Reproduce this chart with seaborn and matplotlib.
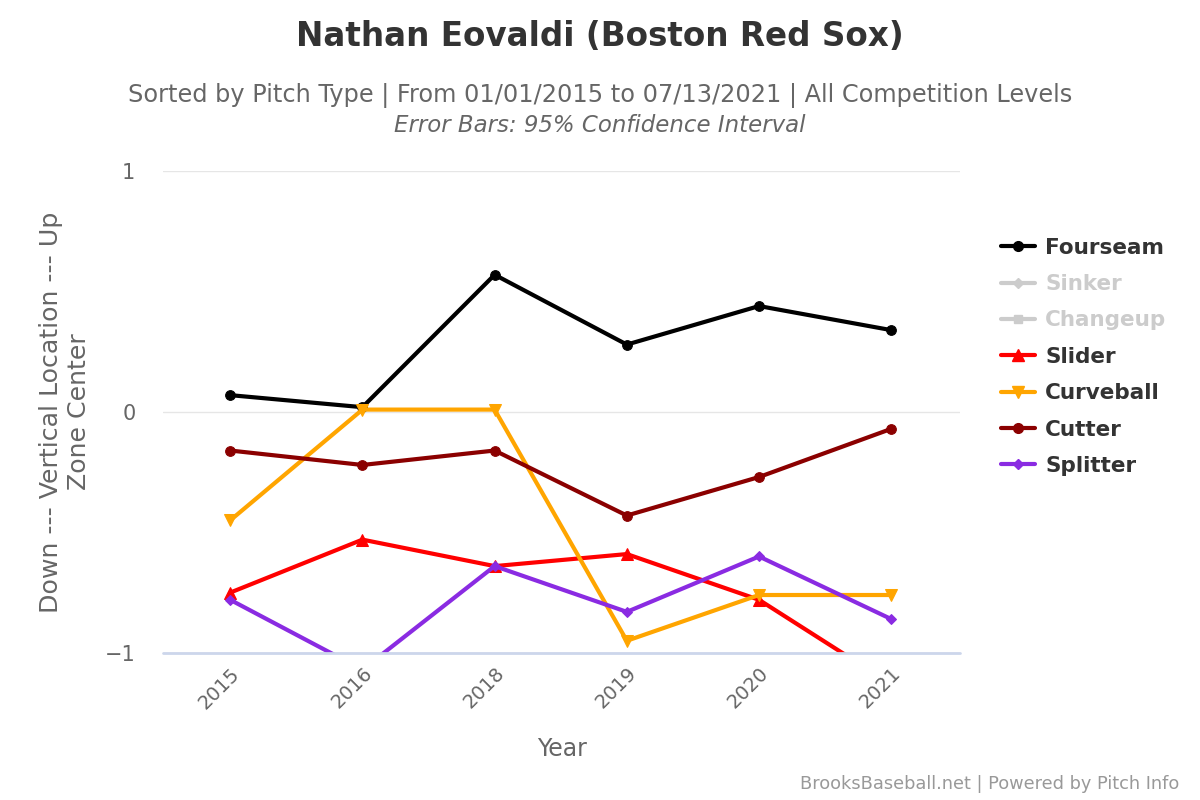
import matplotlib
matplotlib.use("Agg")
import pandas as pd
import seaborn as sns
import matplotlib.pyplot as plt
from matplotlib.lines import Line2D

# Dados
anos = ["2015", "2016", "2018", "2019", "2020", "2021"]
fourseam = [0.07, 0.02, 0.57, 0.28, 0.44, 0.34]
slider = [-0.75, -0.53, -0.64, -0.59, -0.78, -1.13]
curveball = [-0.45, 0.01, 0.01, -0.95, -0.76, -0.76]
cutter = [-0.16, -0.22, -0.16, -0.43, -0.27, -0.07]
splitter = [-0.78, -1.07, -0.64, -0.83, -0.60, -0.86]

series = {
    "Fourseam": (fourseam, "#000000", "o", 7),
    "Slider": (slider, "#ff0000", "^", 8),
    "Curveball": (curveball, "#ffa500", "v", 8),
    "Cutter": (cutter, "#8b0000", "o", 7),
    "Splitter": (splitter, "#8a2be2", "D", 5),
}

sns.set_style("white")
plt.rcParams['font.family'] = ['DejaVu Sans']

fig = plt.figure(figsize=(12, 8), dpi=100)
ax = fig.add_axes([0.136, 0.184, 0.664, 0.602])

for nome, (vals, cor, mk, ms) in series.items():
    df = pd.DataFrame({"ano": anos, "valor": vals})
    sns.lineplot(data=df, x="ano", y="valor", color=cor, marker=mk,
                 markersize=ms, markeredgecolor=cor, linewidth=3, ax=ax,
                 sort=False, zorder=3)

ax.set_ylim(-1, 1)
ax.set_xlim(-0.507, 5.52)
ax.set_yticks([-1, 0, 1])
ax.set_yticklabels(["−1", "0", "1"])
ax.tick_params(axis="y", length=0, labelsize=15, labelcolor="#666666", pad=20)
ax.tick_params(axis="x", length=0, labelsize=14, labelcolor="#666666", pad=8)
for lab in ax.get_xticklabels():
    lab.set_rotation(45)
    lab.set_ha("right")
    lab.set_rotation_mode("anchor")

ax.grid(axis="y", color="#e6e6e6", linewidth=1)
ax.axhline(-1, color="#ccd6eb", linewidth=2, zorder=4, clip_on=False)
for s in ax.spines.values():
    s.set_visible(False)

ax.set_xlabel("Year", fontsize=17, color="#666666", labelpad=18)
ax.set_ylabel("Down --- Vertical Location --- Up\nZone Center", fontsize=18.2,
              color="#666666", labelpad=10)

fig.text(0.5, 0.955, "Nathan Eovaldi (Boston Red Sox)", ha="center", va="center",
         fontsize=23.5, fontweight="bold", color="#333333")
fig.text(0.5, 0.88, "Sorted by Pitch Type | From 01/01/2015 to 07/13/2021 | All Competition Levels",
         ha="center", va="center", fontsize=17.3, color="#666666")
fig.text(0.5, 0.843, "Error Bars: 95% Confidence Interval", ha="center", va="center",
         fontsize=16.5, color="#666666", style="italic")
fig.text(0.983, 0.02, "BrooksBaseball.net | Powered by Pitch Info", ha="right",
         va="center", fontsize=12.8, color="#999999")

# Legenda com as séries ocultas em cinza
itens = [
    ("Fourseam", "#000000", "o", 7),
    ("Sinker", "#cccccc", "D", 5),
    ("Changeup", "#cccccc", "s", 6),
    ("Slider", "#ff0000", "^", 8),
    ("Curveball", "#ffa500", "v", 8),
    ("Cutter", "#8b0000", "o", 7),
    ("Splitter", "#8a2be2", "D", 5),
]
handles = [Line2D([0], [0], color=c, marker=m, markersize=s, linewidth=3,
                  markeredgecolor=c) for _, c, m, s in itens]
leg = fig.legend(handles, [n for n, _, _, _ in itens], loc="upper left",
                 bbox_to_anchor=(0.818, 0.727), frameon=False, fontsize=15.5,
                 handlelength=1.6, labelspacing=0.76, handletextpad=0.45)
for txt, (_, c, _, _) in zip(leg.get_texts(), itens):
    txt.set_fontweight("bold")
    txt.set_color("#cccccc" if c == "#cccccc" else "#333333")

fig.savefig("out.png", dpi=100)
